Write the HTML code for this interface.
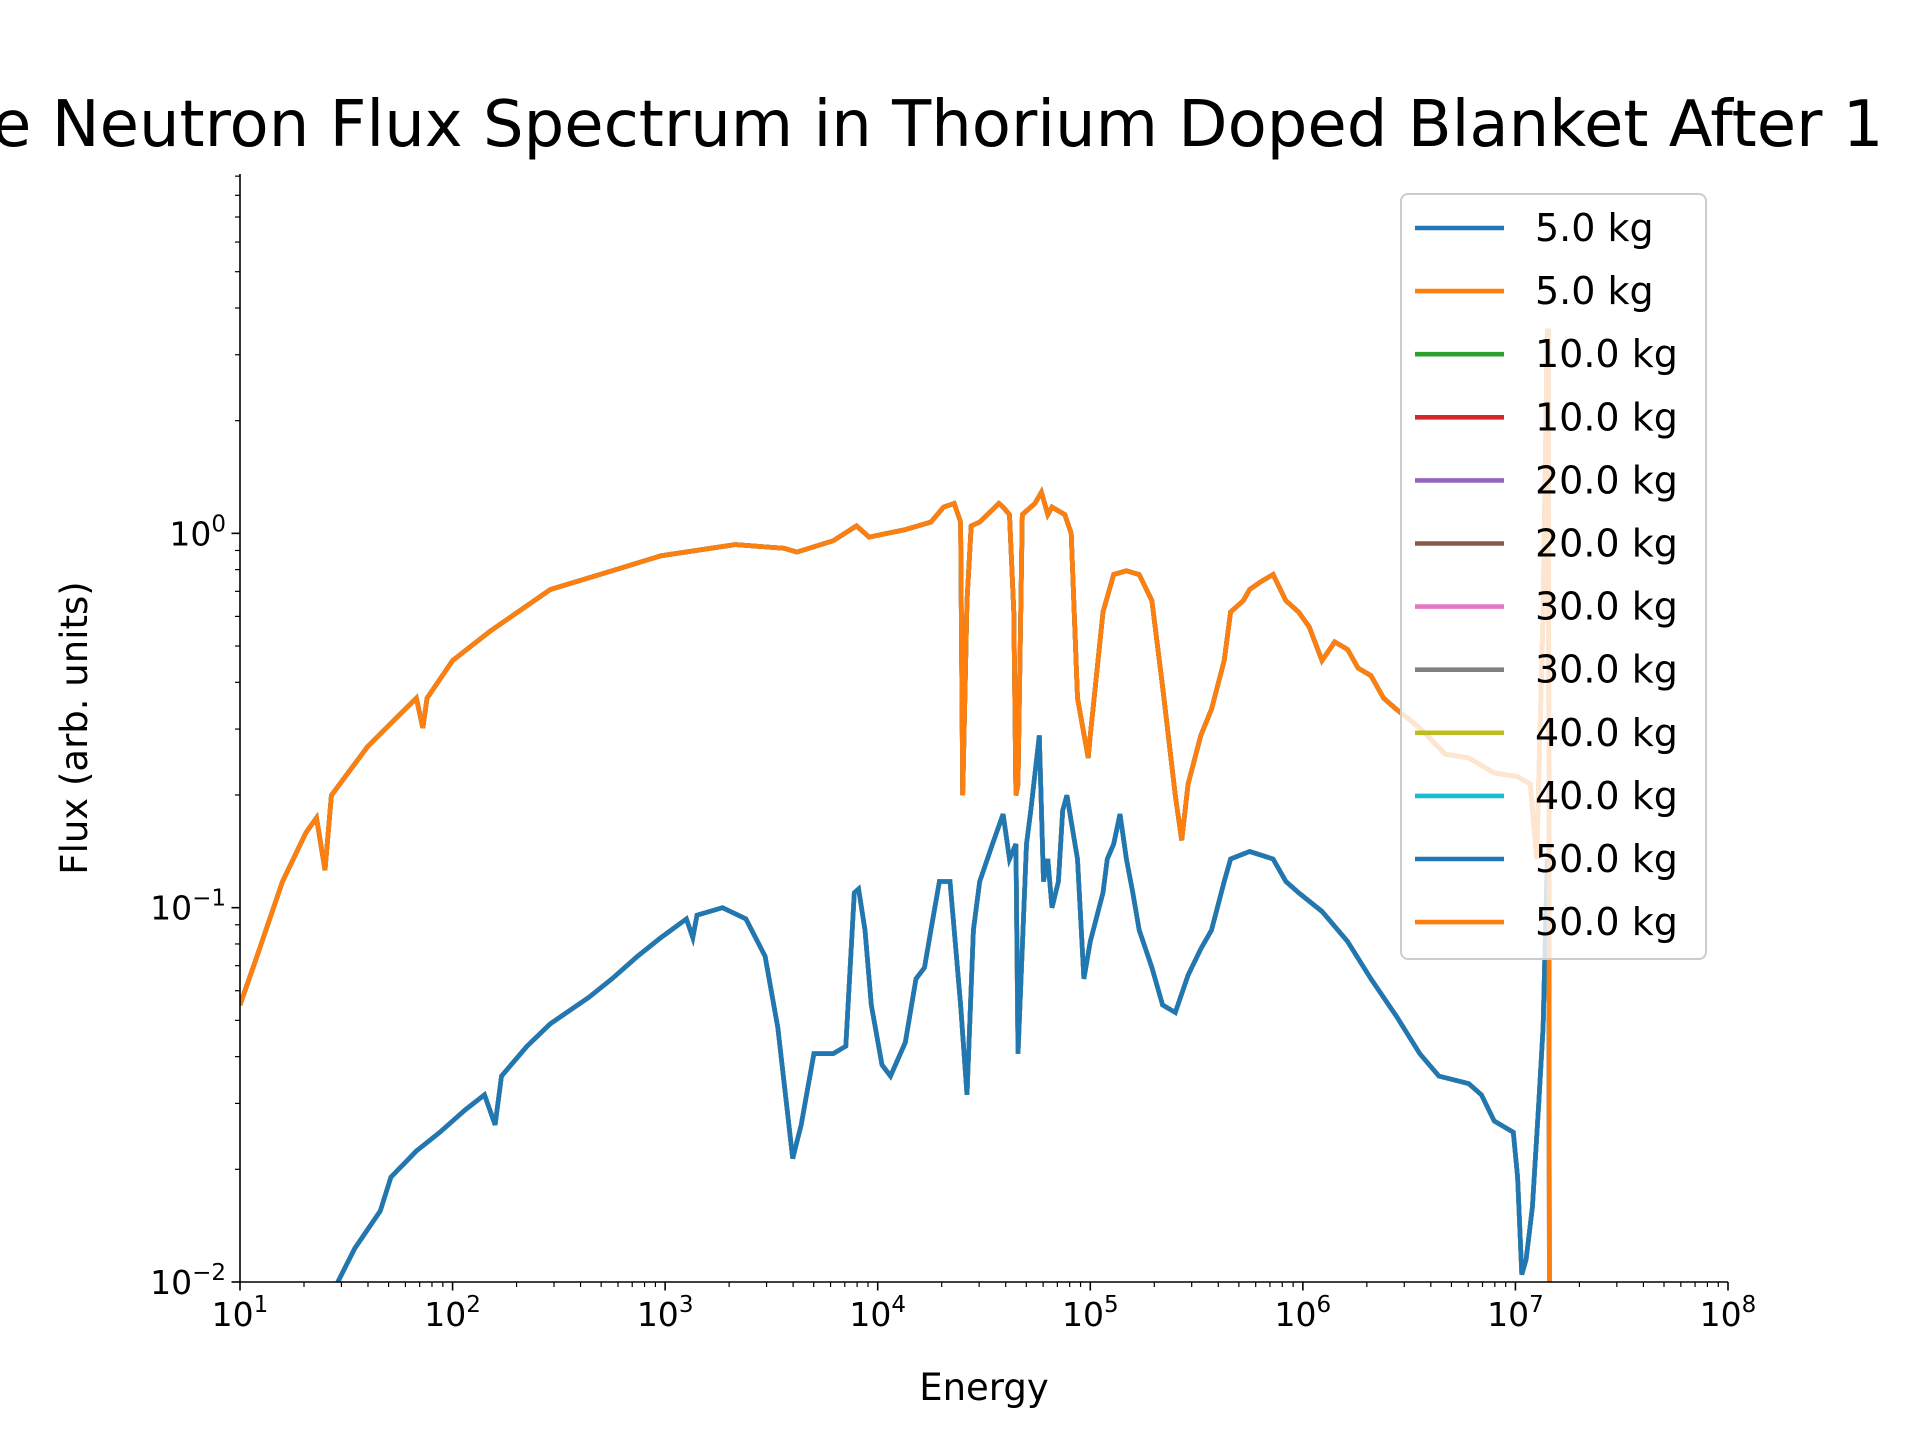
<!DOCTYPE html>
<html><head><meta charset="utf-8">
<style>
html,body{margin:0;padding:0;background:#fff;overflow:hidden}
svg{display:block;font-family:"DejaVu Sans","Liberation Sans",sans-serif}
</style></head>
<body>
<svg id="chart" width="1920" height="1440" viewBox="0 0 1920 1440" xmlns="http://www.w3.org/2000/svg">
<text x="-8" y="146" font-size="64" fill="#000">e Neutron Flux Spectrum in Thorium Doped Blanket After 1</text>
<g id="plot"></g>
</svg>
<script>
// data (log10 values)
const upperLogE = [1.00,1.08,1.20,1.31,1.36,1.40,1.43,1.60,1.83,1.86,1.88,2.00,2.18,2.46,2.75,2.98,3.33,3.56,3.62,3.79,3.90,3.96,4.13,4.25,4.31,4.36,4.39,4.40,4.42,4.44,4.48,4.57,4.59,4.62,4.64,4.65,4.66,4.68,4.74,4.77,4.80,4.82,4.88,4.91,4.94,4.99,5.00,5.06,5.11,5.17,5.23,5.29,5.34,5.40,5.43,5.46,5.52,5.57,5.63,5.66,5.72,5.75,5.80,5.86,5.92,5.98,6.03,6.09,6.15,6.21,6.26,6.32,6.38,6.44,6.55,6.67,6.78,6.90,7.01,7.07,7.10,7.13,7.15,7.155,7.16];
const upperLogF = [-1.26,-1.13,-0.93,-0.80,-0.76,-0.90,-0.70,-0.57,-0.44,-0.52,-0.44,-0.34,-0.26,-0.15,-0.10,-0.06,-0.03,-0.04,-0.05,-0.02,0.02,-0.01,0.01,0.03,0.07,0.08,0.03,-0.70,-0.18,0.02,0.03,0.08,0.07,0.05,-0.21,-0.70,-0.67,0.05,0.08,0.11,0.05,0.07,0.05,0.00,-0.44,-0.60,-0.54,-0.21,-0.11,-0.10,-0.11,-0.18,-0.41,-0.70,-0.82,-0.67,-0.54,-0.47,-0.34,-0.21,-0.18,-0.15,-0.13,-0.11,-0.18,-0.21,-0.25,-0.34,-0.29,-0.31,-0.36,-0.38,-0.44,-0.47,-0.52,-0.59,-0.60,-0.64,-0.65,-0.67,-0.87,-0.21,0.54,0.54,-2.2];
const lowerLogE = [1.46,1.54,1.66,1.71,1.83,1.94,2.06,2.15,2.20,2.23,2.35,2.46,2.64,2.75,2.87,2.98,3.10,3.13,3.15,3.27,3.38,3.47,3.53,3.56,3.60,3.64,3.70,3.79,3.85,3.89,3.91,3.94,3.97,4.02,4.06,4.13,4.18,4.22,4.25,4.29,4.34,4.36,4.39,4.42,4.45,4.48,4.54,4.59,4.62,4.65,4.66,4.70,4.72,4.76,4.78,4.80,4.82,4.85,4.87,4.89,4.94,4.97,5.00,5.06,5.08,5.11,5.14,5.17,5.20,5.23,5.29,5.34,5.40,5.46,5.52,5.57,5.63,5.66,5.75,5.86,5.92,5.98,6.09,6.21,6.32,6.44,6.55,6.64,6.78,6.84,6.90,6.99,7.01,7.03,7.05,7.08,7.11,7.13,7.15];
const lowerLogF = [-2.0,-1.91,-1.81,-1.72,-1.65,-1.60,-1.54,-1.50,-1.58,-1.45,-1.37,-1.31,-1.24,-1.19,-1.13,-1.08,-1.03,-1.08,-1.02,-1.00,-1.03,-1.13,-1.32,-1.47,-1.67,-1.58,-1.39,-1.39,-1.37,-0.96,-0.95,-1.06,-1.26,-1.42,-1.45,-1.36,-1.19,-1.16,-1.06,-0.93,-0.93,-1.06,-1.26,-1.50,-1.06,-0.93,-0.83,-0.75,-0.87,-0.83,-1.39,-0.83,-0.74,-0.54,-0.93,-0.87,-1.00,-0.93,-0.74,-0.70,-0.87,-1.19,-1.09,-0.96,-0.87,-0.83,-0.75,-0.87,-0.96,-1.06,-1.16,-1.26,-1.28,-1.18,-1.11,-1.06,-0.93,-0.87,-0.85,-0.87,-0.93,-0.96,-1.01,-1.09,-1.19,-1.29,-1.39,-1.45,-1.47,-1.50,-1.57,-1.60,-1.72,-1.98,-1.94,-1.80,-1.52,-1.32,-0.87];
const seriesLabels = ["5.0 kg","5.0 kg","10.0 kg","10.0 kg","20.0 kg","20.0 kg","30.0 kg","30.0 kg","40.0 kg","40.0 kg","50.0 kg","50.0 kg"];
const seriesColors = ["#1f77b4","#ff7f0e","#2ca02c","#d62728","#9467bd","#8c564b","#e377c2","#7f7f7f","#bcbd22","#17becf","#1f77b4","#ff7f0e"];
const xTickExp = [1,2,3,4,5,6,7,8];
const yTickExp = [-2,-1,0];

const NS="http://www.w3.org/2000/svg";
const L=240,R=1728,T=174,B=1282;
const xMin=1,xMax=8,yMin=-2,yMax=0.96;
const sx=v=>L+(v-xMin)/(xMax-xMin)*(R-L);
const sy=v=>B-(v-yMin)/(yMax-yMin)*(B-T);
const plot=document.getElementById('plot');
function mk(tag,attrs,parent){const e=document.createElementNS(NS,tag);for(const k in attrs)e.setAttribute(k,attrs[k]);(parent||plot).appendChild(e);return e;}

const defs=mk('defs',{});
const cp=mk('clipPath',{id:'clip'},defs);
mk('rect',{x:L,y:T,width:R-L,height:B-T},cp);
const lines=mk('g',{'clip-path':'url(#clip)'});



function linePath(xs,ys){
  let d='';
  for(let i=0;i<xs.length;i++){
    const X=sx(xs[i]).toFixed(1),Y=sy(Math.max(ys[i],-2.3)).toFixed(1);
    d+=(i===0?'M':' L')+X+' '+Y;
  }
  return d;
}
seriesColors.forEach((c,i)=>{
  const upper=i%2===1;
  const p=mk('path',{d:upper?linePath(upperLogE,upperLogF):linePath(lowerLogE,lowerLogF),fill:'none',stroke:c,'stroke-width':4.6,'stroke-linejoin':'miter'},lines);
  
  
});

// axes
const ax=mk('g',{});


mk('line',{x1:L,y1:T,x2:L,y2:B,stroke:'#000','stroke-width':1.6},ax);
mk('line',{x1:L,y1:B,x2:R,y2:B,stroke:'#000','stroke-width':1.6},ax);
xTickExp.forEach(e=>{
  const X=sx(e);
  mk('line',{x1:X,y1:B,x2:X,y2:B+8.5,stroke:'#000','stroke-width':1.6},ax);
  const t=mk('text',{x:X,y:B+44,'font-size':33,'text-anchor':'middle'},ax);
  
  
  t.innerHTML='10<tspan dy="-14" font-size="23">'+e+'</tspan>';
  if(e<xMax)for(let m=2;m<10;m++){const Xm=sx(e+Math.log10(m));mk('line',{x1:Xm,y1:B,x2:Xm,y2:B+5,stroke:'#000','stroke-width':1.2},ax);}
});
yTickExp.forEach(e=>{
  const Y=sy(e);
  mk('line',{x1:L,y1:Y,x2:L-8.5,y2:Y,stroke:'#000','stroke-width':1.6},ax);
  const t=mk('text',{x:L-14,y:Y+12,'font-size':33,'text-anchor':'end'},ax);
  
  
  t.innerHTML='10<tspan dy="-14" font-size="23">'+(e<0?'\u2212'+(-e):e)+'</tspan>';
});
for(let e=-2;e<1;e++)for(let m=2;m<10;m++){const v=e+Math.log10(m);if(v<=yMax){const Y=sy(v);mk('line',{x1:L,y1:Y,x2:L-5,y2:Y,stroke:'#000','stroke-width':1.2},ax);}}
const xl=mk('text',{x:(L+R)/2,y:1400,'font-size':37,'text-anchor':'middle'},ax);
xl.textContent='Energy';


const yl=mk('text',{x:0,y:0,'font-size':37,'text-anchor':'middle',transform:'translate(87 728) rotate(-90)'},ax);
yl.textContent='Flux (arb. units)';



// legend
const lg=mk('g',{});


mk('rect',{x:1401,y:194,width:305,height:765,rx:7,fill:'#fff','fill-opacity':0.8,stroke:'#ccc','stroke-width':2},lg);
seriesLabels.forEach((s,i)=>{
  const Y=228+i*63.1;
  const g=mk('g',{},lg);
  
  
  mk('line',{x1:1415,y1:Y,x2:1504,y2:Y,stroke:seriesColors[i],'stroke-width':4.6},g);
  const t=mk('text',{x:1535,y:Y+13,'font-size':38},g);
  t.textContent=s;
});
</script>
</body></html>
